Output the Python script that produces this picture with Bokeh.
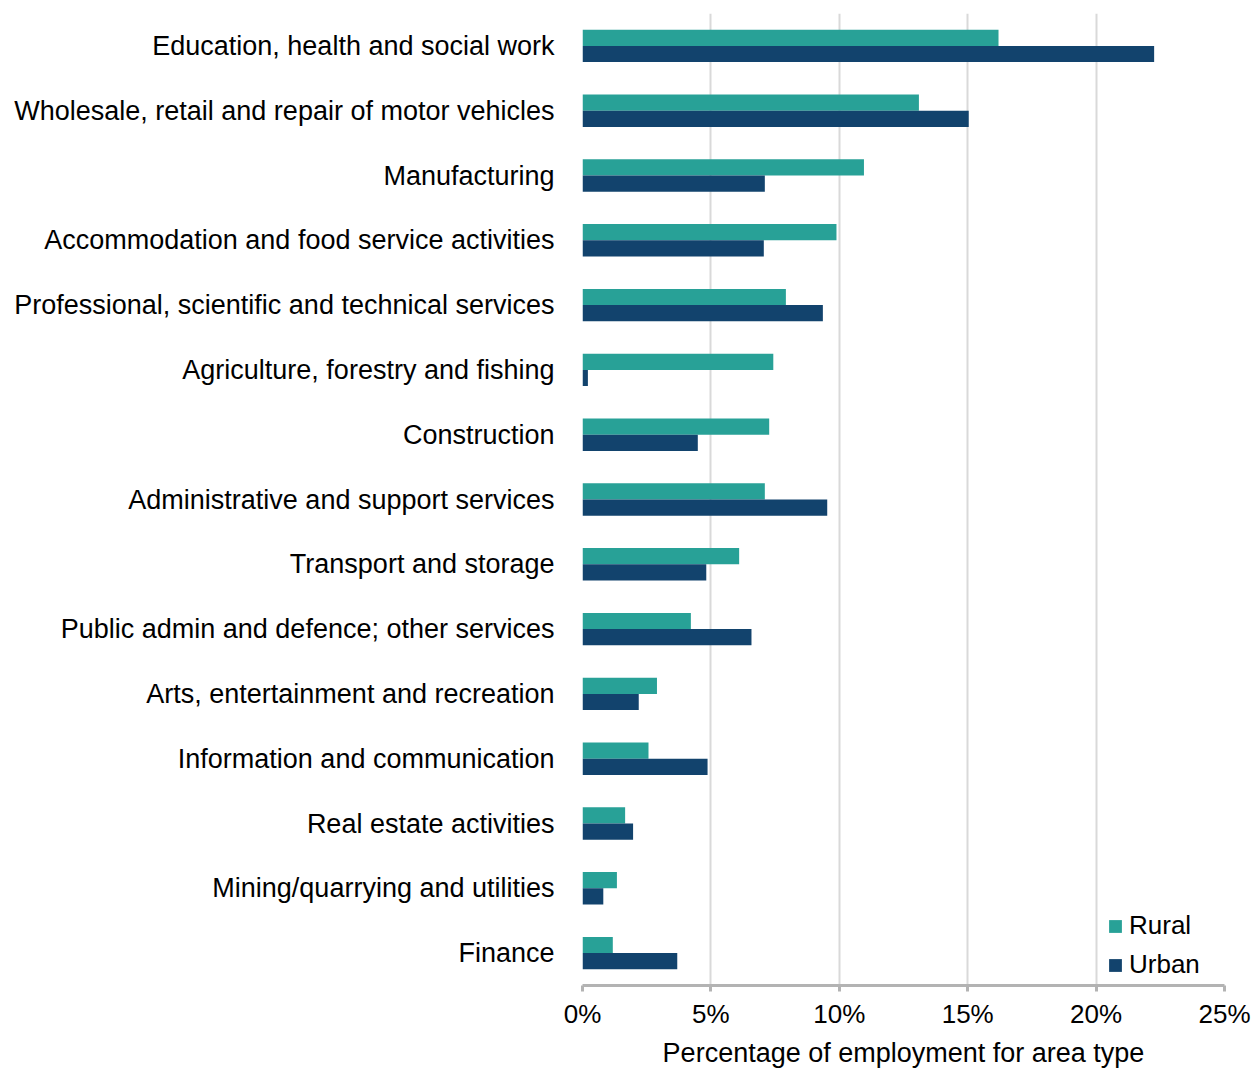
from bokeh.plotting import figure
from bokeh.models import ColumnDataSource, Range1d, FactorRange, FixedTicker, PrintfTickFormatter
from bokeh.transform import dodge
from bokeh.embed import file_html
from bokeh.resources import INLINE

categories = [
    "Education, health and social work",
    "Wholesale, retail and repair of motor vehicles",
    "Manufacturing",
    "Accommodation and food service activities",
    "Professional, scientific and technical services",
    "Agriculture, forestry and fishing",
    "Construction",
    "Administrative and support services",
    "Transport and storage",
    "Public admin and defence; other services",
    "Arts, entertainment and recreation",
    "Information and communication",
    "Real estate activities",
    "Mining/quarrying and utilities",
    "Finance",
]
rural = [16.2, 13.1, 10.96, 9.89, 7.92, 7.43, 7.27, 7.10, 6.10, 4.22, 2.90, 2.57, 1.66, 1.34, 1.18]
urban = [22.26, 15.04, 7.10, 7.06, 9.36, 0.21, 4.49, 9.53, 4.82, 6.58, 2.19, 4.87, 1.97, 0.81, 3.69]
x_ticks = [0, 5, 10, 15, 20, 25]
series_names = ["Rural", "Urban"]
colors = ["#28A197", "#12436D"]

FONT = "Liberation Sans"

source = ColumnDataSource(dict(cat=categories, rural=rural, urban=urban))

p = figure(
    width=1258, height=1070,
    y_range=FactorRange(*list(reversed(categories)), range_padding=0),
    x_range=Range1d(0, 25),
    output_backend="svg", toolbar_location=None,
    min_border_left=582, min_border_right=34, min_border_top=13, min_border_bottom=83,
)
p.outline_line_color = None
p.background_fill_color = "white"

p.hbar(y=dodge("cat", 0.125, range=p.y_range), left=0, right="rural", height=0.25,
       source=source, fill_color=colors[0], line_color=None, legend_label=series_names[0])
p.hbar(y=dodge("cat", -0.125, range=p.y_range), left=0, right="urban", height=0.25,
       source=source, fill_color=colors[1], line_color=None, legend_label=series_names[1])

# grid
p.ygrid.grid_line_color = None
p.xgrid.grid_line_color = "#d9d9d9"
p.xgrid.grid_line_width = 2
p.xgrid.ticker = FixedTicker(ticks=x_ticks)

# x axis
xa = p.xaxis[0]
xa.ticker = FixedTicker(ticks=x_ticks)
xa.formatter = PrintfTickFormatter(format="%d%%")
xa.axis_line_color = "#b3b3b3"
xa.axis_line_width = 3
xa.major_tick_line_color = "#b3b3b3"
xa.major_tick_line_width = 3
xa.major_tick_out = 6
xa.major_tick_in = 0
xa.minor_tick_line_color = None
xa.major_label_text_font = FONT
xa.major_label_text_font_size = "26px"
xa.major_label_text_color = "black"
xa.major_label_standoff = 7
xa.axis_label = "Percentage of employment for area type"
xa.axis_label_text_font = FONT
xa.axis_label_text_font_size = "27px"
xa.axis_label_text_font_style = "normal"
xa.axis_label_text_color = "black"
xa.axis_label_standoff = 6

# y axis
ya = p.yaxis[0]
ya.axis_line_color = None
ya.major_tick_line_color = None
ya.major_tick_out = 0
ya.major_tick_in = 0
ya.minor_tick_line_color = None
ya.major_label_text_font = FONT
ya.major_label_text_font_size = "27px"
ya.major_label_text_color = "black"
ya.major_label_standoff = 28

# legend
lg = p.legend[0]
lg.location = (525, 5)
lg.border_line_color = None
lg.background_fill_alpha = 0
lg.padding = 0
lg.margin = 0
lg.spacing = 8
lg.glyph_width = 16
lg.glyph_height = 16
lg.label_height = 26
lg.label_standoff = 6
lg.label_text_font = FONT
lg.label_text_font_size = "26px"
lg.label_text_color = "black"

open("out.html", "w").write(file_html(p, INLINE))
